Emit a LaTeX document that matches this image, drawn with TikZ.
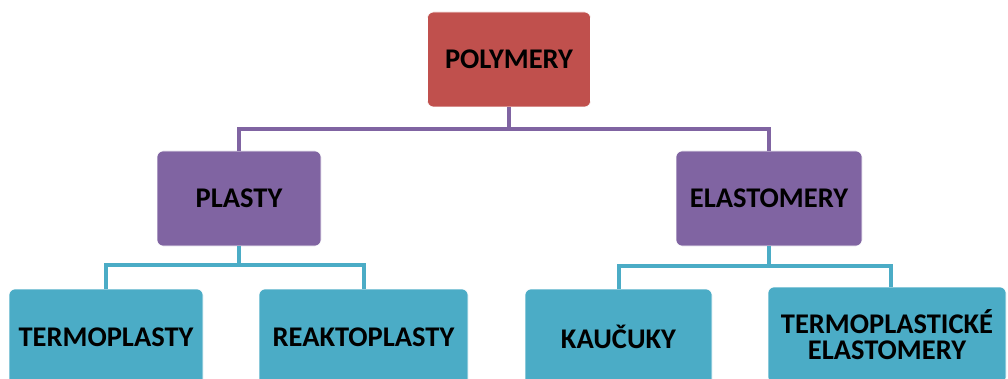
\documentclass[tikz,border=0pt]{standalone}
\usepackage{fontspec}
\setmainfont{Carlito}
\definecolor{cred}{HTML}{C0504D}
\definecolor{cpurple}{HTML}{8064A2}
\definecolor{cteal}{HTML}{4BACC6}
\begin{document}
\begin{tikzpicture}[x=1pt,y=-1pt,
  box/.style={rectangle, rounded corners=6pt, draw=white, line width=0.6pt, inner sep=0pt,
    font=\fontsize{28.5}{26}\selectfont\bfseries, text=black, align=center},
  topbox/.style={box, fill=cred},
  midbox/.style={box, fill=cpurple},
  lowbox/.style={box, fill=cteal},
  plink/.style={draw=cpurple, line width=4pt},
  tlink/.style={draw=cteal, line width=4pt}]
\useasboundingbox (0,0) rectangle (1008,379);
\clip (0,0) rectangle (1008,379);
\node[topbox, minimum width=163pt, minimum height=95pt] (poly) at (509,59.5) {POLYMERY};
\node[midbox, minimum width=164pt, minimum height=95pt] (plasty) at (239,198.5) {PLASTY};
\node[midbox, minimum width=186pt, minimum height=95pt] (elast) at (769,198.5) {ELASTOMERY};
\node[lowbox, minimum width=194pt, minimum height=96pt] (termo) at (106,337) {TERMOPLASTY};
\node[lowbox, minimum width=209pt, minimum height=96pt] (reakto) at (363.5,337) {REAKTOPLASTY};
\node[lowbox, minimum width=187pt, minimum height=96pt] (kauc) at (618.5,337) {KAUČUKY};
\node[lowbox, minimum width=238pt, minimum height=96pt] (tpe) at (887,335) {TERMOPLASTICKÉ\\ELASTOMERY};
\draw[plink] (poly.south) -- ++(0,21.5) -| (plasty.north);
\draw[plink] (poly.south) -- ++(0,21.5) -| (elast.north);
\draw[tlink] (plasty.south) -- ++(0,19) -| ([xshift=-0.5pt]termo.north);
\draw[tlink] (plasty.south) -- ++(0,19) -| (reakto.north);
\draw[tlink] (elast.south) -- ++(0,20) -| (kauc.north);
\draw[tlink] (elast.south) -- ++(0,20) -| ([xshift=4pt]tpe.north);
\end{tikzpicture}
\end{document}
